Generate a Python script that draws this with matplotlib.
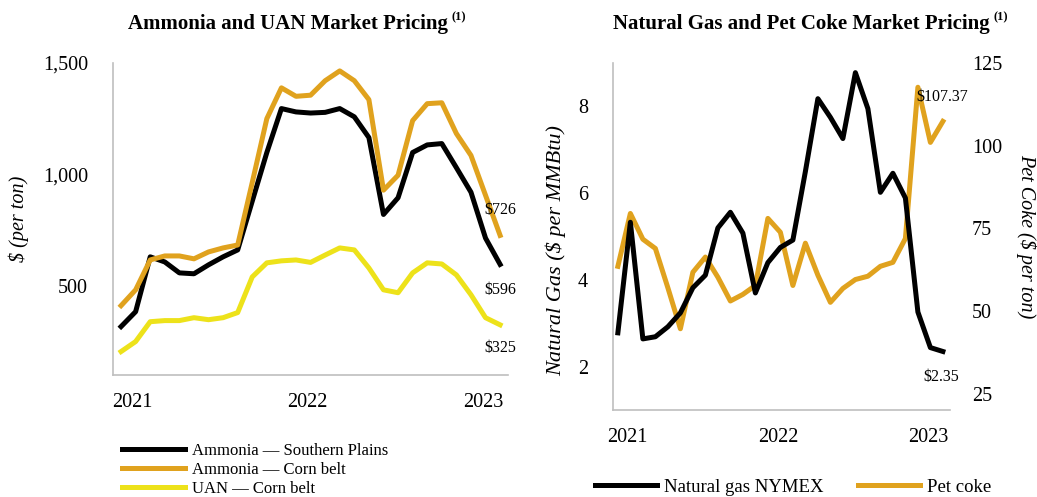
# Ammonia / UAN and natural gas / pet coke market pricing, Jan 2021 - Mar 2023
import numpy as np
import matplotlib
matplotlib.use("Agg")
import matplotlib.pyplot as plt
from matplotlib.ticker import FuncFormatter

plt.rcParams['font.family'] = ['Liberation Serif', 'DejaVu Serif']

# monthly data
ammonia_sp = [317, 384, 630, 607, 558, 554, 594, 630, 661, 880, 1098, 1295, 1280,
              1275, 1278, 1295, 1258, 1165, 820, 895, 1098, 1132, 1138, 1030, 920, 714, 596]
ammonia_cb = [411, 482, 616, 634, 634, 621, 652, 670, 683, 964, 1250, 1388, 1350,
              1355, 1420, 1464, 1420, 1335, 929, 996, 1241, 1317, 1321, 1183, 1085, 906, 726]
uan_cb = [205, 250, 339, 344, 344, 357, 348, 357, 380, 540, 603, 612, 616,
          605, 638, 670, 661, 580, 482, 469, 558, 603, 598, 549, 460, 357, 325]

nat_gas = [2.78, 5.33, 2.64, 2.69, 2.92, 3.24, 3.82, 4.11, 5.20, 5.56, 5.08, 3.70, 4.40,
           4.75, 4.92, 6.50, 8.18, 7.75, 7.26, 8.78, 7.95, 6.02, 6.46, 5.89, 3.26, 2.44, 2.35]
pet_coke = [63.5, 79.5, 71.7, 68.9, 57.0, 44.6, 61.7, 66.3, 60.2, 53.0, 55.0, 57.7, 78.0,
            73.8, 57.7, 70.5, 60.8, 52.6, 56.8, 59.5, 60.5, 63.5, 64.7, 71.9, 117.7, 101.0, 107.37]

year_labels = ['2021', '2022', '2023']
year_pos = [0.75, 12.8, 24.85]

BLACK = '#000000'
ORANGE = '#E0A21E'
YELLOW = '#EDE21A'
GRAY = '#BFBFBF'
LW = 3.6

x = np.arange(len(ammonia_sp))

fig = plt.figure(figsize=(10.37, 4.97), dpi=100)

def style_axes(ax):
    for s in ['top', 'right']:
        ax.spines[s].set_visible(False)
    for s in ['left', 'bottom']:
        ax.spines[s].set_color(GRAY)
        ax.spines[s].set_linewidth(1.2)
    ax.tick_params(length=0, labelsize=14.5)
    ax.tick_params(axis='x', pad=13)
    ax.set_xticks(year_pos)
    ax.set_xticklabels(year_labels)

# ---- left chart
ax1 = fig.add_axes([0.109, 0.2455, 0.381, 0.628])
ax1.plot(x, ammonia_sp, color=BLACK, lw=LW, label='Ammonia — Southern Plains')
ax1.plot(x, ammonia_cb, color=ORANGE, lw=LW, label='Ammonia — Corn belt')
ax1.plot(x, uan_cb, color=YELLOW, lw=LW, label='UAN — Corn belt')
style_axes(ax1)
ax1.set_xlim(-0.55, 26.55)
ax1.set_ylim(100, 1500)
ax1.set_yticks([500, 1000, 1500])
ax1.yaxis.set_major_formatter(FuncFormatter(lambda v, p: f'{v:,.0f}'))
ax1.tick_params(axis='y', pad=18)
ax1.set_ylabel('$ (per ton)', fontsize=14.5, style='italic')
ax1.yaxis.set_label_coords(-0.213, 0.5)

last = len(x) - 1
ax1.text(last - 1.1, ammonia_cb[-1] + 113, f'${ammonia_cb[-1]}', fontsize=11.5, va='center')
ax1.text(last - 1.1, ammonia_sp[-1] - 114, f'${ammonia_sp[-1]}', fontsize=11.5, va='center')
ax1.text(last - 1.1, uan_cb[-1] - 102, f'${uan_cb[-1]}', fontsize=11.5, va='center')

ax1.legend(loc='upper left', bbox_to_anchor=(0.1176, 1 - 443 / 497),
           bbox_transform=fig.transFigure, frameon=False, fontsize=12,
           handlelength=3.8, handletextpad=0.4, labelspacing=0.18, borderpad=0,
           borderaxespad=0)

# ---- right chart
ax2 = fig.add_axes([0.591, 0.175, 0.325, 0.698])
ax3 = ax2.twinx()
ax2.plot(x, nat_gas, color=BLACK, lw=LW, label='Natural gas NYMEX', zorder=3)
ax3.plot(x, pet_coke, color=ORANGE, lw=LW, label='Pet coke')
style_axes(ax2)
ax2.set_zorder(ax3.get_zorder() + 1)
ax2.patch.set_visible(False)
for s in ax3.spines.values():
    s.set_visible(False)
ax3.tick_params(length=0, labelsize=14.5, pad=16)
ax2.set_xlim(-0.4, 26.56)
ax2.set_ylim(1, 9)
ax2.set_yticks([2, 4, 6, 8])
ax2.tick_params(axis='y', pad=18)
ax3.set_ylim(20, 125)
ax3.set_yticks([25, 50, 75, 100, 125])
ax2.set_ylabel('Natural Gas ($ per MMBtu)', fontsize=16, style='italic')
ax2.yaxis.set_label_coords(-0.14, 0.46)
ax3.set_ylabel('Pet Coke ($ per ton)', fontsize=14.5, style='italic', rotation=-90)
ax3.yaxis.set_label_coords(1.258, 0.5)

ax3.text(last - 2.16, pet_coke[-1] + 7.3, f'${pet_coke[-1]:.2f}', fontsize=11.5, va='center')
ax2.text(last - 1.6, nat_gas[-1] - 0.58, f'${nat_gas[-1]:.2f}', fontsize=11.5, va='center')

h2, l2 = ax2.get_legend_handles_labels()
h3, l3 = ax3.get_legend_handles_labels()
ax2.legend(h2 + h3, l2 + l3, loc='center left', bbox_to_anchor=(595 / 1037, 1 - 487 / 497),
           bbox_transform=fig.transFigure, frameon=False, fontsize=13.5, ncol=2,
           handlelength=3.3, handletextpad=0.4, columnspacing=1.8, borderpad=0,
           borderaxespad=0)

# ---- titles
fig.text(448 / 1037, 1 - 24 / 497, 'Ammonia and UAN Market Pricing', fontsize=15,
         fontweight='bold', ha='right', va='center')
fig.text(451 / 1037, 1 - 17 / 497, '(1)', fontsize=9, fontweight='bold', ha='left', va='center')
fig.text(990 / 1037, 1 - 24 / 497, 'Natural Gas and Pet Coke Market Pricing', fontsize=15,
         fontweight='bold', ha='right', va='center')
fig.text(993 / 1037, 1 - 17 / 497, '(1)', fontsize=9, fontweight='bold', ha='left', va='center')

fig.savefig('out.png', dpi=100)
